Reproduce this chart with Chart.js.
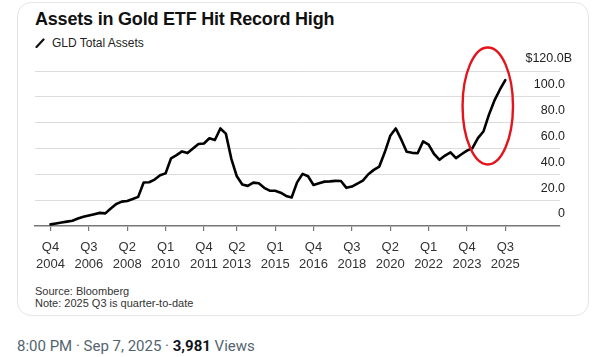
<!DOCTYPE html>
<html>
<head>
<meta charset="utf-8">
<script src="https://cdn.jsdelivr.net/npm/chart.js@4/dist/chart.umd.min.js"></script>
<style>
  html, body { margin: 0; padding: 0; background: #fff; }
  body { width: 600px; height: 357px; position: relative; overflow: hidden; font-family: "Liberation Sans", Arial, sans-serif; }
  #card { position: absolute; left: 17px; top: 2px; width: 572px; height: 314px; border: 1px solid #e3e6e8; border-radius: 14px; box-sizing: border-box; }
  #title { position: absolute; left: 35px; top: 9px; font-size: 18px; font-weight: bold; color: #111; letter-spacing: -0.2px; white-space: nowrap; }
  #legend { position: absolute; left: 35px; top: 36px; font-size: 12px; color: #222; white-space: nowrap; }
  #legend svg { position: absolute; left: 0; top: 2px; }
  #legend span { position: absolute; left: 17px; top: 0; }
  #source { position: absolute; left: 35px; top: 285px; font-size: 11px; line-height: 12px; color: #333; white-space: nowrap; }
  #footer { position: absolute; left: 17px; top: 337px; font-family: Roboto, "Liberation Sans", sans-serif; font-size: 15px; color: #536471; white-space: nowrap; }
  #footer b { color: #0f1419; font-weight: bold; }
  #chart { position: absolute; left: 0; top: 0; }
</style>
</head>
<body>
<div id="card"></div>
<div id="title">Assets in Gold ETF Hit Record High</div>
<div id="legend"><svg width="10" height="10"><line x1="1.5" y1="9" x2="8.5" y2="1.5" stroke="#111" stroke-width="2.2" stroke-linecap="round"/></svg><span>GLD Total Assets</span></div>
<div id="source">Source: Bloomberg<br>Note: 2025 Q3 is quarter-to-date</div>
<div id="footer">8:00 PM · Sep 7, 2025 · <b>3,981</b> Views</div>
<canvas id="chart" width="600" height="357"></canvas>
<script>
// Quarterly GLD total assets (billions USD), starting 2004 Q4 (index 0) to 2025 Q3 (index 83)
const gldAssets = [
  1.2, 1.9, 2.6, 3.3, 4.0, 5.7, 7.1, 8.1, 9.1, 10.1,
  9.7, 13.5, 17.0, 18.8, 19.3, 20.8, 22.5, 33.6, 33.8, 35.9,
  39.2, 40.7, 52.4, 54.8, 57.7, 56.4, 60.0, 63.5, 63.8, 67.9,
  66.5, 75.5, 71.5, 52.0, 38.4, 32.0, 31.0, 33.5, 33.0, 29.5,
  27.3, 27.2, 25.7, 23.2, 22.0, 33.7, 40.3, 38.5, 31.7, 33.1,
  34.3, 34.5, 34.9, 34.8, 29.5, 30.5, 32.8, 35.1, 40.0, 43.4,
  46.0, 57.0, 69.8, 75.5, 67.0, 57.4, 56.6, 56.3, 65.5, 63.0,
  55.7, 51.2, 54.5, 57.0, 52.5, 55.5, 58.3, 60.2, 68.0, 73.1,
  86.0, 97.0, 105.5, 113.0
];
// x-axis tick positions (quarter index) and their labels
const tickIndex = [0, 7, 14, 21, 28, 34, 41, 48, 55, 62, 69, 76, 83];
const tickLabels = [
  ['Q4', '2004'], ['Q3', '2006'], ['Q2', '2008'], ['Q1', '2010'], ['Q4', '2011'],
  ['Q2', '2013'], ['Q1', '2015'], ['Q4', '2016'], ['Q3', '2018'], ['Q2', '2020'],
  ['Q1', '2022'], ['Q4', '2023'], ['Q3', '2025']
];
// y-axis ticks (trailing spaces keep numbers aligned under "$120.0" while the "B" overhangs)
const yTicks = [0, 20, 40, 60, 80, 100, 120];
const yTickLabels = ['0\u00A0\u00A0', '20.0\u00A0\u00A0', '40.0\u00A0\u00A0', '60.0\u00A0\u00A0', '80.0\u00A0\u00A0', '100.0\u00A0\u00A0', '$120.0B'];

// highlight ellipse (in data units: quarter index / billions)
const highlight = { cx: 79.8, cy: 92.9, rx: 4.6, ry: 45.3 };

const points = gldAssets.map((v, i) => ({ x: i, y: v }));

const ellipsePlugin = {
  id: 'highlightEllipse',
  afterDatasetsDraw(chart) {
    const { ctx, scales: { x, y } } = chart;
    const cx = x.getPixelForValue(highlight.cx);
    const cy = y.getPixelForValue(highlight.cy);
    const rx = Math.abs(x.getPixelForValue(highlight.cx + highlight.rx) - cx);
    const ry = Math.abs(y.getPixelForValue(highlight.cy + highlight.ry) - cy);
    ctx.save();
    ctx.beginPath();
    ctx.ellipse(cx, cy, rx, ry, 0, 0, Math.PI * 2);
    ctx.strokeStyle = '#e3141c';
    ctx.lineWidth = 2.4;
    ctx.stroke();
    ctx.restore();
  }
};

new Chart(document.getElementById('chart'), {
  type: 'line',
  data: {
    datasets: [{
      label: 'GLD Total Assets',
      data: points,
      borderColor: '#000',
      borderWidth: 2.6,
      pointRadius: 0,
      tension: 0,
      borderJoinStyle: 'round',
      borderCapStyle: 'round',
      clip: false
    }]
  },
  options: {
    responsive: false,
    animation: false,
    events: [],
    layout: { padding: { left: 35, right: 16, top: 71, bottom: 76.3 } },
    plugins: { legend: { display: false }, tooltip: { enabled: false } },
    scales: {
      x: {
        type: 'linear',
        min: -2.83,
        max: 92.98,
        afterBuildTicks(scale) { scale.ticks = tickIndex.map(v => ({ value: v })); },
        ticks: {
          autoSkip: false,
          maxRotation: 0,
          padding: 8,
          color: '#333',
          font: { family: '"Liberation Sans", Arial, sans-serif', size: 13, lineHeight: 1.3 },
          callback: (v) => tickLabels[tickIndex.indexOf(v)]
        },
        grid: { drawOnChartArea: false, drawTicks: true, tickLength: 5, color: '#777', lineWidth: 1.2 },
        border: { display: true, color: '#777', width: 1.5 }
      },
      y: {
        position: 'right',
        min: 0,
        max: 120,
        afterBuildTicks(scale) { scale.ticks = yTicks.map(v => ({ value: v })); },
        ticks: {
          mirror: true,
          padding: 12,
          labelOffset: -12,
          color: '#222',
          font: { family: '"Liberation Sans", Arial, sans-serif', size: 12.5 },
          callback: (v) => yTickLabels[yTicks.indexOf(v)]
        },
        grid: { drawTicks: false, color: '#dcdcdc', lineWidth: 1 },
        border: { display: false }
      }
    }
  },
  plugins: [ellipsePlugin]
});
</script>
</body>
</html>
